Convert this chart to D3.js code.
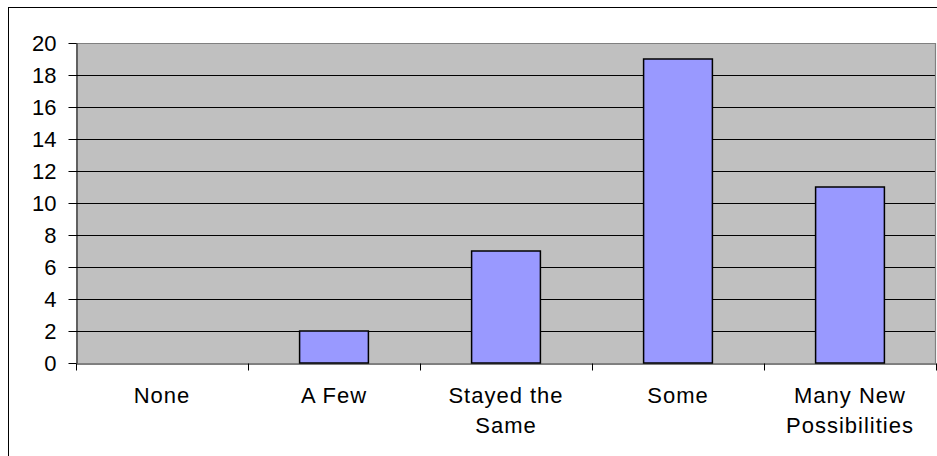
<!DOCTYPE html>
<html>
<head>
<meta charset="utf-8">
<script src="https://cdn.jsdelivr.net/npm/d3@7"></script>
<style>
  html, body { margin: 0; padding: 0; background: #fff; }
  svg { display: block; font-family: "Liberation Sans", Arial, sans-serif; }
</style>
</head>
<body>
<svg id="chart" width="937" height="456"></svg>
<script>
// Responses per category
const categories = ["None", "A Few", "Stayed the Same", "Some", "Many New Possibilities"];
const counts = [0, 2, 7, 19, 11];
const yTicks = [0, 2, 4, 6, 8, 10, 12, 14, 16, 18, 20];

const svg = d3.select("#chart");
const W = 937, H = 456;
const plot = { left: 76, right: 936, top: 43, bottom: 363 };
const fontSize = 22;

// Outer chart frame (runs off the right and bottom edges)
svg.append("rect")
  .attr("x", 8.5).attr("y", 7.5)
  .attr("width", W + 10).attr("height", H + 10)
  .attr("fill", "#fff").attr("stroke", "#000").attr("stroke-width", 1);

const x = d3.scaleBand().domain(categories).range([plot.left, plot.right]).padding(0);
const y = d3.scaleLinear().domain([0, 20]).range([plot.bottom, plot.top]);

// Plot area background
svg.append("rect")
  .attr("x", plot.left).attr("y", plot.top)
  .attr("width", plot.right - plot.left).attr("height", plot.bottom - plot.top)
  .attr("fill", "#c0c0c0");

// Horizontal gridlines
svg.append("g")
  .selectAll("line")
  .data(yTicks.filter(t => t > 0 && t < 20))
  .join("line")
  .attr("x1", plot.left).attr("x2", plot.right)
  .attr("y1", d => Math.round(y(d)) + 0.5).attr("y2", d => Math.round(y(d)) + 0.5)
  .attr("stroke", "#000").attr("stroke-width", 1);

// Plot area top/right border
svg.append("path")
  .attr("d", `M${plot.left},${plot.top + 0.5}H${plot.right - 0.5}V${plot.bottom}`)
  .attr("fill", "none").attr("stroke", "#808080").attr("stroke-width", 1.2);

// Bars (gap width 150%)
const barW = x.bandwidth() / 2.5;
svg.append("g")
  .selectAll("rect")
  .data(categories.map((c, i) => ({ c, v: counts[i] })).filter(d => d.v > 0))
  .join("rect")
  .attr("x", d => x(d.c) + (x.bandwidth() - barW) / 2)
  .attr("y", d => y(d.v))
  .attr("width", barW)
  .attr("height", d => y(0) - y(d.v))
  .attr("fill", "#9999ff")
  .attr("stroke", "#000")
  .attr("stroke-width", 1.5);

// Y axis
const yAxis = svg.append("g")
  .attr("transform", `translate(${plot.left + 0.5},0)`)
  .call(d3.axisLeft(y).tickValues(yTicks).tickSize(8).tickPadding(12).tickSizeOuter(0));
yAxis.selectAll("text").attr("font-size", fontSize).attr("fill", "#000")
  .attr("font-family", "Liberation Sans, Arial, sans-serif");
yAxis.selectAll("line").attr("stroke", "#000");
yAxis.select(".domain").attr("stroke", "#000");

// X axis: labels at band centres
const xAxis = svg.append("g")
  .attr("transform", `translate(0,${plot.bottom + 0.5})`)
  .call(d3.axisBottom(x).tickSize(0).tickSizeOuter(0));
xAxis.select(".domain").attr("stroke", "#000");

// Category separators below the axis
const bounds = categories.map(c => x(c)).concat([plot.right]);
xAxis.selectAll(".sep")
  .data(bounds)
  .join("line")
  .attr("class", "sep")
  .attr("x1", d => Math.round(d) + 0.5).attr("x2", d => Math.round(d) + 0.5)
  .attr("y1", 0).attr("y2", 7)
  .attr("stroke", "#000");

// Wrapped category labels
const maxLabelWidth = 140;
xAxis.selectAll(".tick text")
  .attr("font-size", fontSize).attr("fill", "#000")
  .attr("letter-spacing", 1)
  .attr("font-family", "Liberation Sans, Arial, sans-serif")
  .each(function (d) {
    const t = d3.select(this);
    const words = d.split(" ");
    t.text(null).attr("y", 39).attr("dy", 0);
    let lines = [], cur = [];
    words.forEach(w => {
      const test = cur.concat([w]).join(" ");
      t.text(test);
      if (cur.length && this.getComputedTextLength() > maxLabelWidth) {
        lines.push(cur.join(" "));
        cur = [w];
      } else {
        cur.push(w);
      }
    });
    lines.push(cur.join(" "));
    t.text(null);
    lines.forEach((ln, i) => {
      t.append("tspan").attr("x", 0).attr("dy", i === 0 ? 0 : 30).text(ln);
    });
  });
</script>
</body>
</html>
